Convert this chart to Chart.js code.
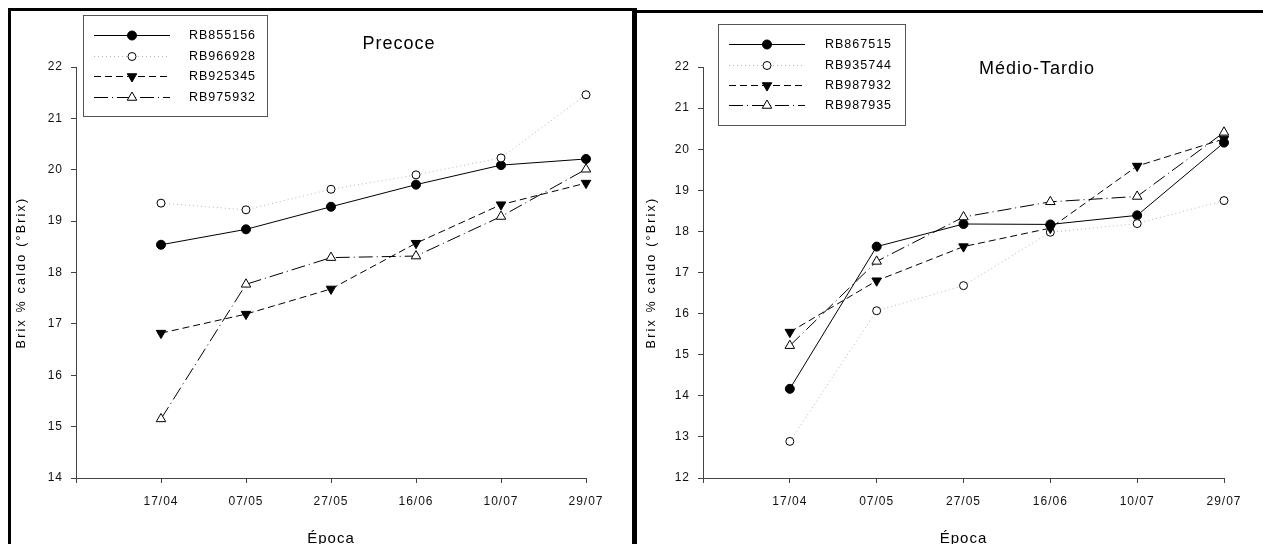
<!DOCTYPE html>
<html>
<head>
<meta charset="utf-8">
<script src="https://cdn.jsdelivr.net/npm/chart.js@4"></script>
<style>
  body { margin: 0; background: #fff; width: 1263px; height: 544px; overflow: hidden; position: relative; }
  .panel { position: absolute; border: 3px solid #000; box-sizing: border-box; height: 700px; }
  #p1 { left: 8px; top: 8px; width: 629px; }
  #p2 { left: 632px; top: 10px; width: 700px; }
  canvas { position: absolute; top: 0; }
  #c1 { left: 0; }
  #c2 { left: 636px; }
</style>
</head>
<body>
<div class="panel" id="p1"></div>
<div class="panel" id="p2"></div>
<canvas id="c1" width="634" height="544" style="width:634px;height:544px"></canvas>
<canvas id="c2" width="627" height="544" style="width:627px;height:544px"></canvas>
<script>
// datas de amostragem
const dates = ['17/04', '07/05', '27/05', '16/06', '10/07', '29/07'];

// Precoce
const precoceNames = ['RB855156', 'RB966928', 'RB925345', 'RB975932'];
const rb855156 = [18.54, 18.84, 19.28, 19.71, 20.09, 20.21];
const rb966928 = [19.35, 19.22, 19.62, 19.90, 20.23, 21.46];
const rb925345 = [16.82, 17.19, 17.68, 18.57, 19.32, 19.74];
const rb975932 = [15.15, 17.77, 18.29, 18.32, 19.09, 20.01];

// Médio-Tardio
const tardioNames = ['RB867515', 'RB935744', 'RB987932', 'RB987935'];
const rb867515 = [14.17, 17.63, 18.18, 18.17, 18.39, 20.16];
const rb935744 = [12.89, 16.07, 16.68, 17.98, 18.19, 18.75];
const rb987932 = [15.55, 16.80, 17.63, 18.08, 19.59, 20.25];
const rb987935 = [15.22, 17.27, 18.35, 18.72, 18.85, 20.41];

const FONT = "'Liberation Sans', Arial, sans-serif";
const yTitle = 'Brix % caldo (°Brix)';

// estilos das séries (mesma ordem nos dois gráficos)
const styles = [
    { borderColor: '#000', borderDash: [], pointStyle: 'circle', pointRadius: 4.5, pointRotation: 0, pointBackgroundColor: '#000' },
    { borderColor: '#b5b5b5', borderDash: [1, 3], pointStyle: 'circle', pointRadius: 4, pointRotation: 0, pointBackgroundColor: '#fff' },
    { borderColor: '#000', borderDash: [7, 4], pointStyle: 'triangle', pointRadius: 5.5, pointRotation: 180, pointBackgroundColor: '#000' },
    { borderColor: '#000', borderDash: [14, 4, 1, 4], pointStyle: 'triangle', pointRadius: 5.5, pointRotation: 0, pointBackgroundColor: '#fff' }
];

function makeDatasets(names, series) {
    return series.map((values, i) => ({
        label: names[i],
        data: values.map((v, j) => ({ x: j + 1, y: v })),
        borderWidth: 1,
        pointBorderColor: '#000',
        pointBorderWidth: 1,
        pointHoverRadius: styles[i].pointRadius,
        order: 3 - i,
        clip: false,
        ...styles[i]
    }));
}

// títulos, eixos e legenda em caixa
const panelText = {
    id: 'panelText',
    beforeDraw(chart) {
        chart.ctx.letterSpacing = '1px';
    },
    afterDraw(chart, args, o) {
        const { ctx, chartArea: a } = chart;
        ctx.save();
        ctx.fillStyle = '#000';
        ctx.textAlign = 'center';

        ctx.font = `18px ${FONT}`;
        ctx.letterSpacing = '1px';
        ctx.textBaseline = 'middle';
        ctx.fillText(o.title, o.titleX, o.titleY);

        ctx.font = `15px ${FONT}`;
        ctx.textBaseline = 'alphabetic';
        ctx.fillText('Época', (a.left + a.right) / 2, o.xTitleY);

        ctx.save();
        ctx.translate(o.yTitleX, (a.top + a.bottom) / 2);
        ctx.rotate(-Math.PI / 2);
        ctx.font = `12.5px ${FONT}`;
        ctx.letterSpacing = '2.2px';
        ctx.textBaseline = 'middle';
        ctx.fillText(yTitle, 0, 0);
        ctx.restore();

        // legenda
        const L = o.legend;
        ctx.strokeStyle = '#555';
        ctx.lineWidth = 1;
        ctx.setLineDash([]);
        ctx.strokeRect(L.x + 0.5, L.y + 0.5, L.w, L.h);
        ctx.font = `12.5px ${FONT}`;
        ctx.letterSpacing = '1px';
        ctx.textAlign = 'left';
        ctx.textBaseline = 'middle';
        chart.data.datasets.forEach((ds, i) => {
            const y = Math.round(L.row0 + i * L.gap) + 0.5;
            ctx.strokeStyle = ds.borderColor;
            ctx.setLineDash(ds.borderDash);
            ctx.beginPath();
            ctx.moveTo(L.line0, y);
            ctx.lineTo(L.line1, y);
            ctx.stroke();
            ctx.setLineDash([]);
            ctx.fillStyle = ds.pointBackgroundColor;
            ctx.strokeStyle = ds.pointBorderColor;
            Chart.helpers.drawPoint(ctx, {
                pointStyle: ds.pointStyle, radius: ds.pointRadius,
                rotation: ds.pointRotation, borderWidth: 1
            }, (L.line0 + L.line1) / 2, y);
            ctx.fillStyle = '#000';
            ctx.fillText(ds.label, L.textX, y);
        });
        ctx.restore();
    }
};

function scales(yMin, yMax, yWidth) {
    return {
        x: {
            type: 'linear', min: 0, max: 6,
            afterFit: s => { s.height = 66; },
            ticks: {
                stepSize: 1, autoSkip: false, maxRotation: 0, padding: 11, color: '#111',
                font: { size: 12, family: FONT },
                callback: v => dates[v - 1] ?? ''
            },
            grid: { drawOnChartArea: false, tickLength: 5, color: '#444' },
            border: { color: '#444' }
        },
        y: {
            type: 'linear', min: yMin, max: yMax,
            afterFit: s => { s.width = yWidth; },
            ticks: { stepSize: 1, padding: 8, color: '#111', font: { size: 12, family: FONT } },
            grid: { drawOnChartArea: false, tickLength: 5, color: '#444' },
            border: { color: '#444' }
        }
    };
}

function baseOptions(yMin, yMax, yWidth, padRight, text) {
    return {
        responsive: false,
        animation: false,
        layout: { padding: { left: 0, right: padRight, top: 67, bottom: 0 } },
        scales: scales(yMin, yMax, yWidth),
        plugins: { legend: { display: false }, tooltip: { enabled: false }, panelText: text }
    };
}

new Chart(document.getElementById('c1'), {
    type: 'line',
    data: { datasets: makeDatasets(precoceNames, [rb855156, rb966928, rb925345, rb975932]) },
    options: baseOptions(14, 22, 76, 48, {
        title: 'Precoce', titleX: 399, titleY: 44, xTitleY: 543, yTitleX: 22,
        legend: { x: 83, y: 15, w: 184, h: 101, line0: 94, line1: 170, textX: 189, row0: 35, gap: 20.6 }
    }),
    plugins: [panelText]
});

new Chart(document.getElementById('c2'), {
    type: 'line',
    data: { datasets: makeDatasets(tardioNames, [rb867515, rb935744, rb987932, rb987935]) },
    options: baseOptions(12, 22, 67, 39, {
        title: 'Médio-Tardio', titleX: 401, titleY: 69, xTitleY: 543, yTitleX: 16,
        legend: { x: 82, y: 24, w: 187, h: 101, line0: 93, line1: 169, textX: 189, row0: 44.3, gap: 20.3 }
    }),
    plugins: [panelText]
});
</script>
</body>
</html>
